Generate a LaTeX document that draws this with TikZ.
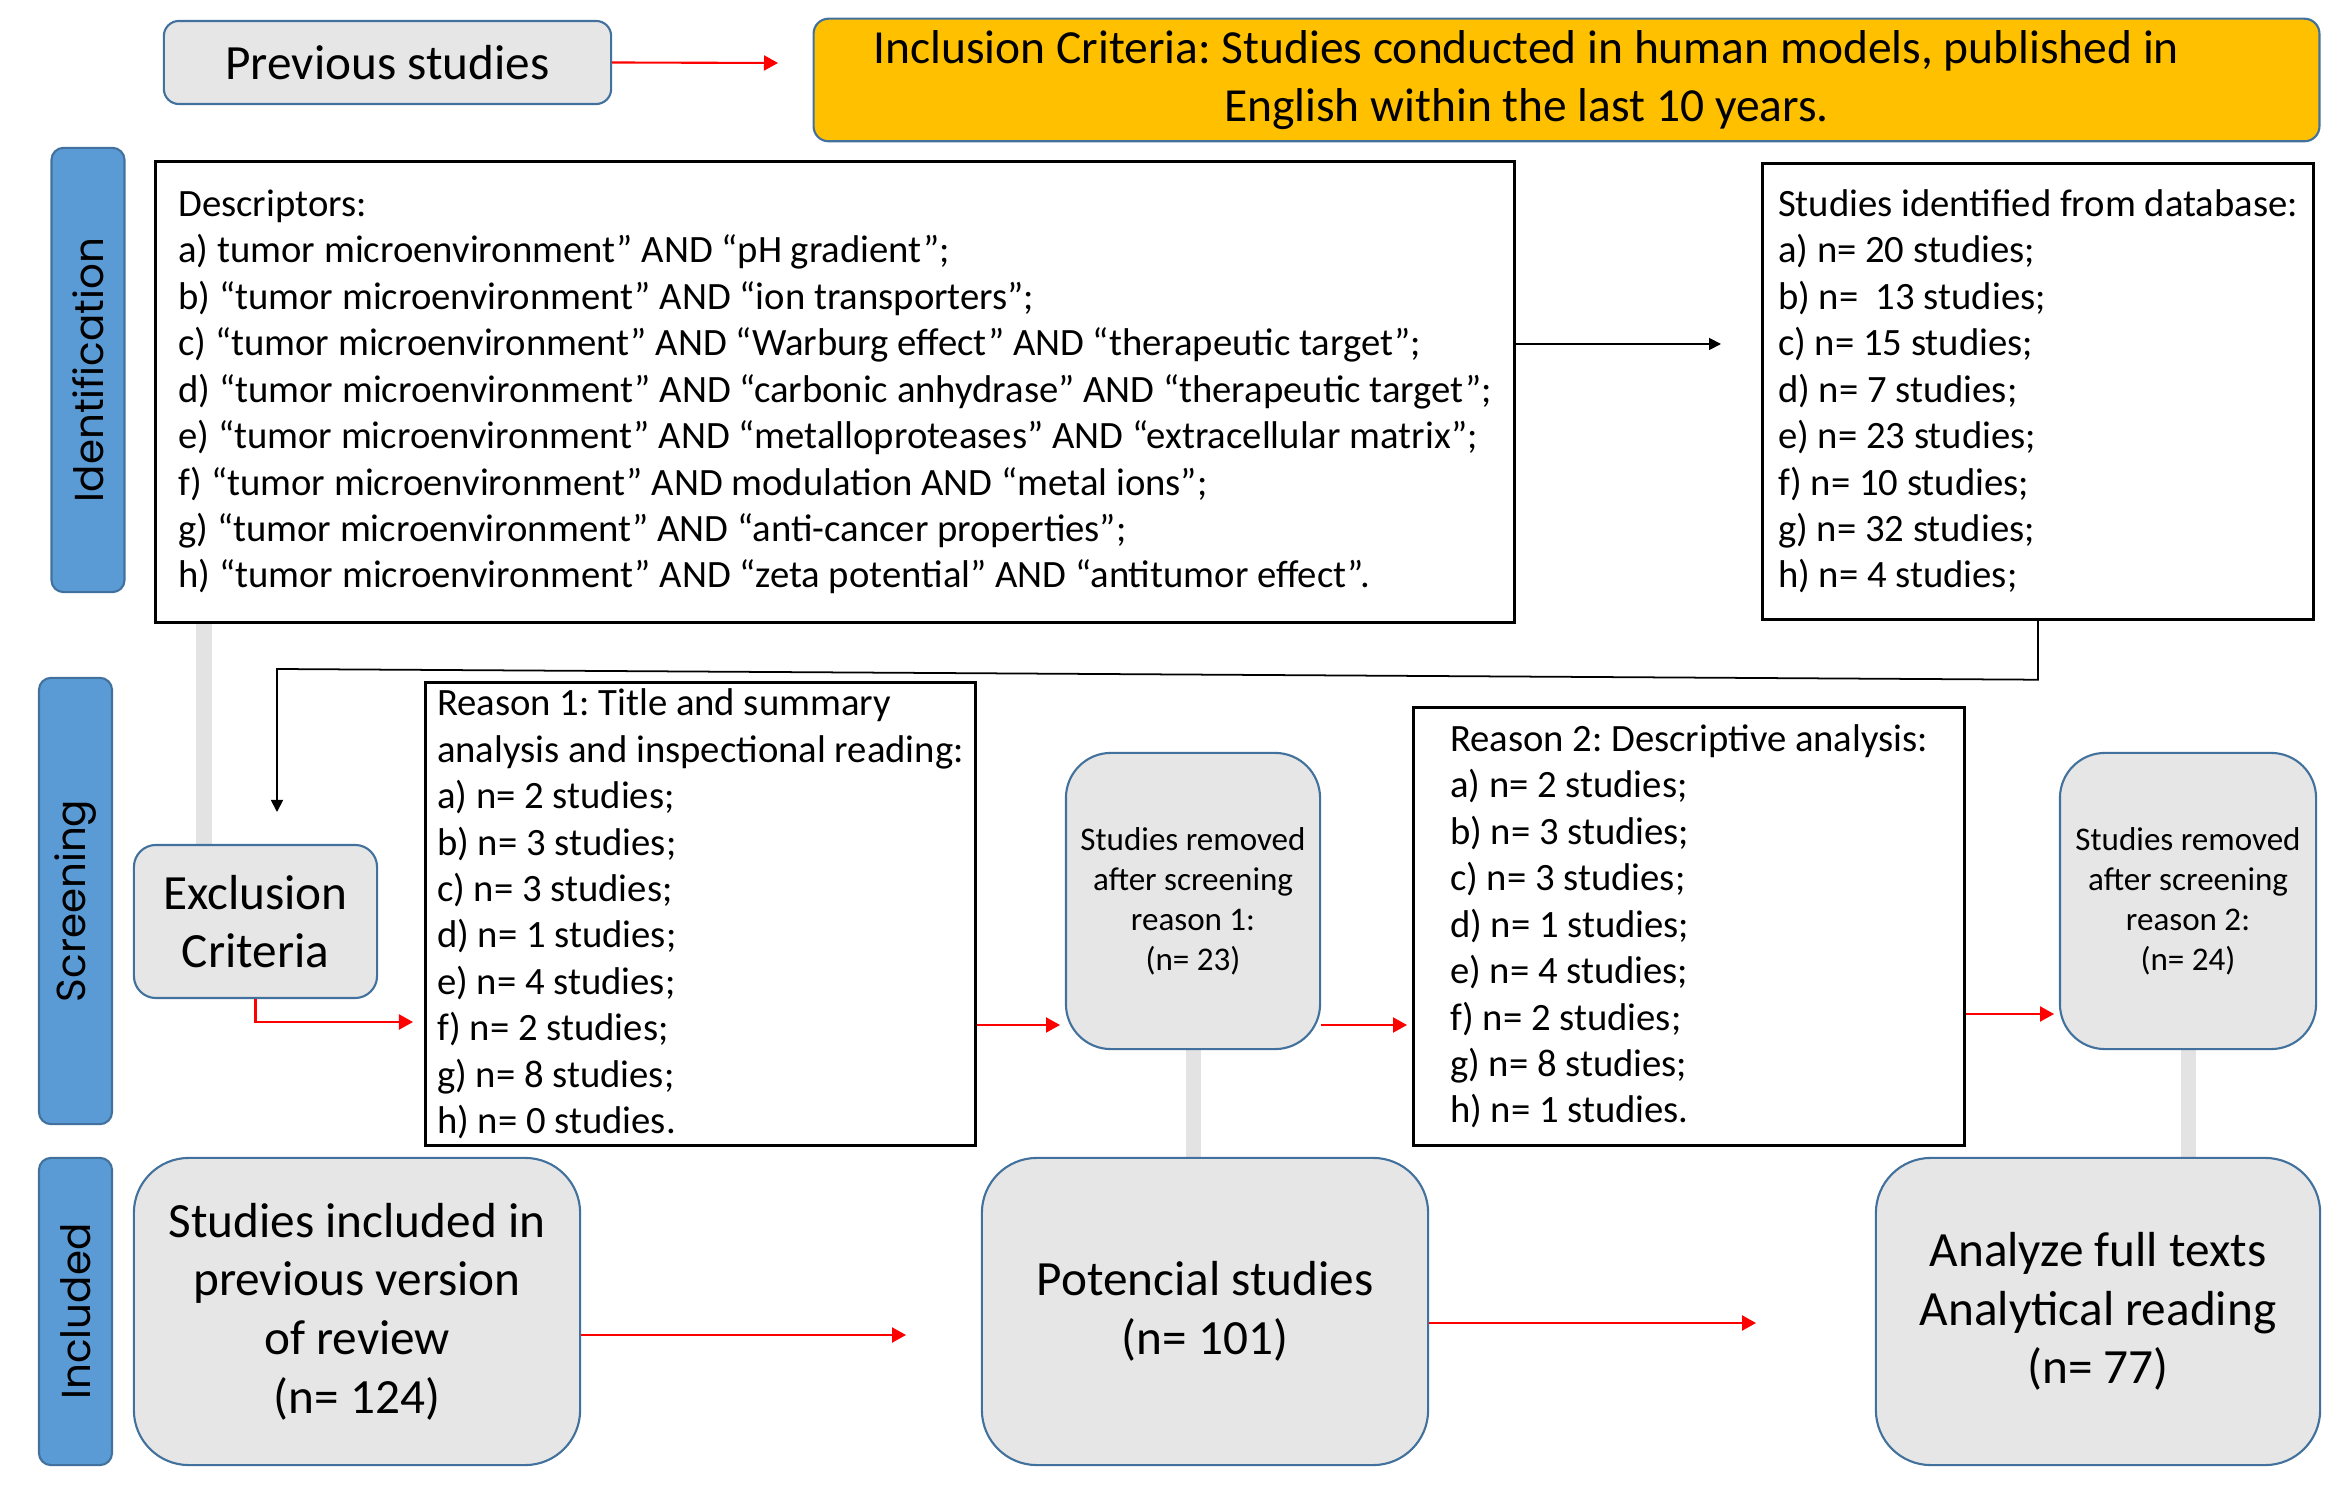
\documentclass[tikz,border=0pt]{standalone}
\usepackage{fontspec}
\setmainfont{Carlito}
\newfontfamily\stagefont{Poppins}
\usetikzlibrary{arrows.meta,backgrounds}
\frenchspacing

\definecolor{stageblue}{HTML}{5B9BD5}
\definecolor{stageedge}{HTML}{41719C}
\definecolor{boxgrey}{HTML}{E6E6E6}
\definecolor{linkgrey}{HTML}{E3E3E3}
\definecolor{inclorange}{HTML}{FFC000}
\definecolor{arrowred}{HTML}{FF0000}

\tikzset{
  stagebar/.style={draw=stageedge, line width=0.6pt, fill=stageblue, rounded corners=0.12cm,
    minimum height=0.73cm, rotate=90, font=\stagefont\fontsize{11.5}{14}\selectfont},
  greybox/.style={draw=stageedge, line width=0.6pt, fill=boxgrey, align=center},
  listbox/.style={draw=black, line width=0.9pt, fill=white, align=left, inner ysep=0pt,
    font=\fontsize{11}{13.2}\selectfont},
  redarrow/.style={draw=arrowred, line width=0.6pt, -{Triangle[length=0.14cm, width=0.15cm]}},
  blackarrow/.style={draw=black, line width=0.5pt, -{Triangle[length=0.12cm, width=0.12cm]}},
  linkbar/.style={draw=linkgrey, line width=0.15cm}
}

\begin{document}
\begin{tikzpicture}[x=0.01cm, y=-0.01cm]
  \useasboundingbox (0,0) rectangle (2337,1486);

  % top row
  \node[greybox, rounded corners=0.15cm, minimum width=4.47cm, minimum height=0.83cm,
    font=\fontsize{14}{17}\selectfont] (prev) at (387.5,62.5) {Previous studies};
  \node[greybox, fill=inclorange, rounded corners=0.15cm, minimum width=15.05cm, minimum height=1.18cm,
    font=\fontsize{13.5}{16.5}\selectfont] (incl) at (1566.5,80)
    {Inclusion Criteria: Studies conducted in human models, published in\hspace*{0.8cm}\\
     English within the last 10 years.\hspace*{0.8cm}};

  % stage bars
  \node[stagebar, minimum width=4.44cm] (identbar) at (88,370) {Identification};
  \node[stagebar, minimum width=4.46cm] (screenbar) at (75.5,901) {Screening};
  \node[stagebar, minimum width=3.07cm] (inclbar) at (75.5,1311.5) {Included};

  % identification
  \node[listbox, minimum width=13.58cm, minimum height=4.6cm] (desc) at (835,392)
    {Descriptors:\\
     a) tumor microenvironment” AND “pH gradient”;\\
     b) “tumor microenvironment” AND “ion transporters”;\\
     c) “tumor microenvironment” AND “Warburg effect” AND “therapeutic target”;\\
     d) “tumor microenvironment” AND “carbonic anhydrase” AND “therapeutic target”;\\
     e) “tumor microenvironment” AND “metalloproteases” AND “extracellular matrix”;\\
     f) “tumor microenvironment” AND modulation AND “metal ions”;\\
     g) “tumor microenvironment” AND “anti-cancer properties”;\\
     h) “tumor microenvironment” AND “zeta potential” AND “antitumor effect”.};
  \node[listbox, minimum width=5.5cm, minimum height=4.55cm] (found) at (2038,391.5)
    {Studies identified from database:\\
     a) n= 20 studies;\\
     b) n= \ 13 studies;\\
     c) n= 15 studies;\\
     d) n= 7 studies;\\
     e) n= 23 studies;\\
     f) n= 10 studies;\\
     g) n= 32 studies;\\
     h) n= 4 studies;};

  % screening
  \node[greybox, rounded corners=0.22cm, minimum width=2.43cm, minimum height=1.53cm,
    font=\fontsize{14}{16.5}\selectfont] (excl) at (255.5,921.5) {Exclusion\\Criteria};
  \node[listbox, minimum width=5.45cm, minimum height=4.62cm] (reason1) at (700.5,914)
    {Reason 1: Title and summary\\
     analysis and inspectional reading:\\
     a) n= 2 studies;\\
     b) n= 3 studies;\\
     c) n= 3 studies;\\
     d) n= 1 studies;\\
     e) n= 4 studies;\\
     f) n= 2 studies;\\
     g) n= 8 studies;\\
     h) n= 0 studies.};
  \node[greybox, rounded corners=0.45cm, minimum width=2.54cm, minimum height=2.96cm,
    font=\fontsize{9.4}{11.4}\selectfont] (removed1) at (1193,901)
    {Studies removed\\after screening\\reason 1:\\(n= 23)};
  \node[listbox, minimum width=5.5cm, minimum height=4.37cm] (reason2) at (1689,926.5)
    {Reason 2: Descriptive analysis:\\
     a) n= 2 studies;\\
     b) n= 3 studies;\\
     c) n= 3 studies;\\
     d) n= 1 studies;\\
     e) n= 4 studies;\\
     f) n= 2 studies;\\
     g) n= 8 studies;\\
     h) n= 1 studies.};
  \node[greybox, rounded corners=0.45cm, minimum width=2.56cm, minimum height=2.96cm,
    font=\fontsize{9.4}{11.4}\selectfont] (removed2) at (2188,901)
    {Studies removed\\after screening\\reason 2:\\(n= 24)};

  % included
  \node[greybox, rounded corners=0.55cm, minimum width=4.46cm, minimum height=3.07cm,
    font=\fontsize{14}{16.7}\selectfont] (included) at (357,1311.5)
    {Studies included in\\previous version\\of review\\(n= 124)};
  \node[greybox, rounded corners=0.55cm, minimum width=4.46cm, minimum height=3.07cm,
    font=\fontsize{14}{16.7}\selectfont] (potential) at (1205,1311.5)
    {Potencial studies\\(n= 101)};
  \node[greybox, rounded corners=0.55cm, minimum width=4.44cm, minimum height=3.07cm,
    font=\fontsize{14}{16.7}\selectfont] (analyze) at (2098,1311.5)
    {Analyze full texts\\Analytical reading\\(n= 77)};

  % grey links behind the boxes
  \coordinate (linkx) at (204,0);
  \begin{scope}[on background layer]
    \draw[linkbar] (desc.south -| linkx) -- (excl.north -| linkx);
    \draw[linkbar] (removed1.south) -- (removed1.south |- potential.north);
    \draw[linkbar] (removed2.south) -- (removed2.south |- analyze.north);
  \end{scope}

  % arrows
  \coordinate (prevend) at (778,63);
  \coordinate (descend) at (1721,344);
  \coordinate (turn) at (277,669);
  \coordinate (drop) at (277,812);
  \coordinate (exclend) at (413,1022);
  \coordinate (r1end) at (1060,1025);
  \coordinate (rm1end) at (1407,1025);
  \coordinate (r2end) at (2054,1014);
  \coordinate (incend) at (906,1335);
  \coordinate (potend) at (1756,1323);

  \draw[redarrow] (prev.east) -- (prevend);
  \draw[blackarrow] (desc.east |- descend) -- (descend);
  \draw[blackarrow] (found.south) -- ++(0,59) -- (turn) -- (drop);
  \draw[redarrow] (excl.south) |- (exclend);
  \draw[redarrow] (reason1.east |- r1end) -- (r1end);
  \draw[redarrow] (removed1.east |- rm1end) -- (rm1end);
  \draw[redarrow] (reason2.east |- r2end) -- (r2end);
  \draw[redarrow] (included.east |- incend) -- (incend);
  \draw[redarrow] (potential.east |- potend) -- (potend);
\end{tikzpicture}
\end{document}
